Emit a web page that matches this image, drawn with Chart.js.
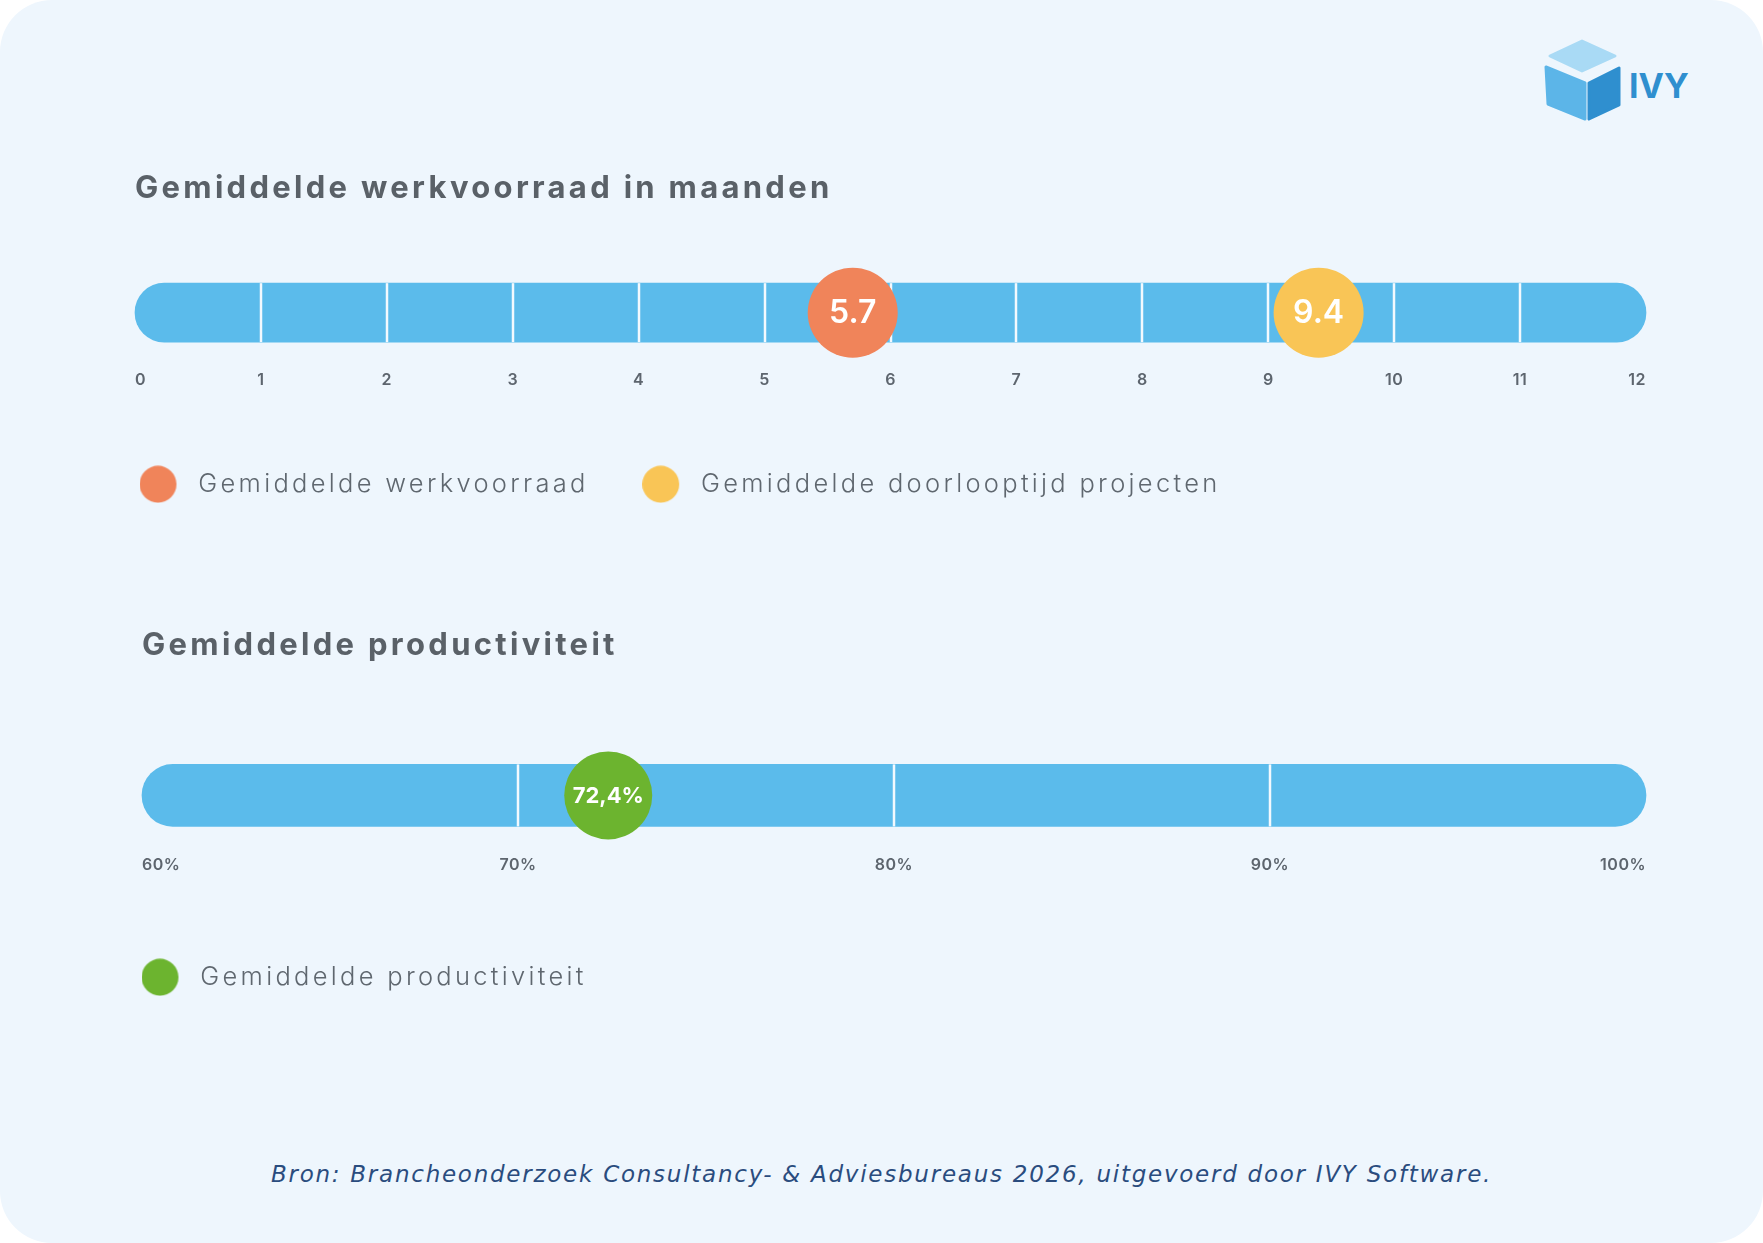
<!DOCTYPE html>
<html lang="nl">
<head>
<meta charset="utf-8">
<title>Werkvoorraad en productiviteit</title>
<script src="https://cdn.jsdelivr.net/npm/chart.js@4.4.1/dist/chart.umd.min.js"></script>
<style>
  html, body { margin: 0; background: #ffffff; }
  .card {
    position: relative;
    width: 1763px;
    height: 1243px;
    background: #eef6fd;
    border-radius: 52px;
    overflow: hidden;
  }
  canvas { position: absolute; left: 0; }
  #stockChart { top: 140px; }
  #prodChart { top: 580px; }
  .logo { position: absolute; left: 0; top: 0; }
  .source {
    position: absolute;
    left: 0;
    width: 100%;
    top: 1161px;
    text-align: center;
    font: italic 400 23px "DejaVu Sans", sans-serif;
    letter-spacing: 1.75px;
    color: #2a4c7e;
  }
</style>
</head>
<body>
<div class="card">
  <svg class="logo" width="1763" height="140" viewBox="0 0 1763 140">
    <g stroke-linejoin="round" stroke-width="3">
      <polygon points="1550,56 1582,41 1615,56 1582,71" fill="#a9daf5" stroke="#a9daf5"/>
      <polygon points="1546,67 1585,83 1585,119 1548,104" fill="#5cb5e8" stroke="#5cb5e8"/>
      <polygon points="1589,83 1619,68 1619,105 1589,119" fill="#2f8fcf" stroke="#2f8fcf"/>
    </g>
    <text x="1629" y="98" font-family="Inter" font-weight="700" font-size="34" fill="#2f8fcf">IVY</text>
  </svg>

  <canvas id="stockChart" width="1763" height="367"></canvas>
  <canvas id="prodChart" width="1763" height="420"></canvas>

  <div class="source">Bron: Brancheonderzoek Consultancy- &amp; Adviesbureaus 2026, uitgevoerd door IVY Software.</div>
</div>

<script>
// werkvoorraad (maanden)
const monthTicks = [0, 1, 2, 3, 4, 5, 6, 7, 8, 9, 10, 11, 12];
const stockSeries = ["Gemiddelde werkvoorraad", "Gemiddelde doorlooptijd projecten"];
const stockValues = [5.7, 9.4];

// productiviteit (%)
const percentTicks = [60, 70, 80, 90, 100];
const prodSeries = ["Gemiddelde productiviteit"];
const prodValues = [72.4];

const colors = {
  bar: "#5bbbeb",
  divider: "#f3f9fe",
  stock: ["#f0845a", "#f9c556"],
  prod: ["#6cb42f"],
  title: "#5a6168",
  tick: "#5d656e",
  legend: "#5f676f",
};

// legend dot with some room on the right, so the text sits where it should
function legendDot(color) {
  const c = document.createElement("canvas");
  c.width = 46;
  c.height = 38;
  const g = c.getContext("2d");
  g.fillStyle = color;
  g.beginPath();
  g.arc(18.5, 19, 18.5, 0, Math.PI * 2);
  g.fill();
  return c;
}

// white separators on the bar, one per tick (not the two ends)
const dividers = {
  id: "dividers",
  afterDatasetDraw(chart, args) {
    if (args.index !== 0) return;
    const bar = args.meta.data[0];
    const x = chart.scales.x;
    const top = bar.y - bar.height / 2;
    const bottom = bar.y + bar.height / 2;
    const ctx = chart.ctx;
    ctx.save();
    ctx.strokeStyle = colors.divider;
    ctx.lineWidth = 2.5;
    x.ticks.forEach((t) => {
      if (t.value === x.min || t.value === x.max) return;
      const px = Math.round(x.getPixelForValue(t.value));
      ctx.beginPath();
      ctx.moveTo(px, top);
      ctx.lineTo(px, bottom);
      ctx.stroke();
    });
    ctx.restore();
  },
};

// letter spacing for title/legend, values inside the dots
function markerText(format, font) {
  return {
    id: "markerText",
    beforeLayout(chart) {
      chart.ctx.letterSpacing = "3.3px";
    },
    beforeDraw(chart) {
      chart.ctx.letterSpacing = "3.3px";
    },
    afterDatasetsDraw(chart) {
      const ctx = chart.ctx;
      ctx.save();
      ctx.letterSpacing = "0px";
      ctx.fillStyle = "#ffffff";
      ctx.font = font;
      ctx.textAlign = "center";
      ctx.textBaseline = "middle";
      chart.data.datasets.forEach((ds, i) => {
        if (ds.type !== "scatter") return;
        const pt = chart.getDatasetMeta(i).data[0];
        ctx.fillText(format(ds.data[0].x), pt.x, pt.y + 1);
      });
      ctx.restore();
      // tick labels are drawn after this (ticks.z = 1)
      ctx.letterSpacing = "0.5px";
    },
  };
}

function gaugeChart(id, o) {
  const min = o.ticks[0];
  const max = o.ticks[o.ticks.length - 1];
  return new Chart(document.getElementById(id), {
    type: "bar",
    data: {
      labels: ["rij"],
      datasets: [
        {
          type: "bar",
          data: [[min, max]],
          backgroundColor: colors.bar,
          barThickness: o.barHeight,
          borderRadius: 40,
          borderSkipped: false,
          clip: false,
          order: 1,
        },
        ...o.series.map((name, i) => ({
          type: "scatter",
          label: name,
          data: [{ x: o.values[i], y: "rij" }],
          backgroundColor: o.colors[i],
          borderWidth: 0,
          pointRadius: o.dotRadius,
          pointHoverRadius: o.dotRadius,
          clip: false,
          order: 0,
        })),
      ],
    },
    options: {
      responsive: false,
      animation: false,
      indexAxis: "y",
      events: [],
      layout: {
        padding: { top: 0, bottom: 0, left: o.padLeft, right: 117 },
      },
      scales: {
        x: {
          type: "linear",
          min: min,
          max: max,
          grid: { display: false, drawTicks: false },
          border: { display: false },
          afterBuildTicks(scale) {
            scale.ticks = o.ticks.map((v) => ({ value: v }));
          },
          afterFit(scale) {
            scale.height += o.axisExtra;
          },
          ticks: {
            z: 1,
            align: "inner",
            autoSkip: false,
            maxRotation: 0,
            padding: o.tickPad,
            color: colors.tick,
            font: { family: "Inter", size: 16, weight: "600" },
            callback: o.tickFormat,
          },
        },
        y: {
          type: "category",
          grid: { display: false, drawTicks: false },
          border: { display: false },
          ticks: { display: false },
          afterFit(scale) {
            scale.width = o.axisWidth;
          },
        },
      },
      plugins: {
        tooltip: { enabled: false },
        title: {
          display: true,
          text: o.title,
          align: "start",
          fullSize: false,
          color: colors.title,
          font: { family: "Inter", size: 31, weight: "700" },
          padding: { top: o.titleTop, bottom: o.titleBottom },
        },
        legend: {
          display: true,
          position: "bottom",
          align: "start",
          labels: {
            usePointStyle: true,
            pointStyleWidth: 46,
            padding: 53.5,
            color: colors.legend,
            font: { family: "Inter", size: 25.5, weight: "300" },
            filter: (item) => item.datasetIndex > 0,
            generateLabels(chart) {
              return Chart.defaults.plugins.legend.labels
                .generateLabels(chart)
                .map((item) => ({ ...item, pointStyle: legendDot(item.fillStyle) }));
            },
          },
        },
      },
    },
    plugins: [dividers, markerText(o.valueFormat, o.valueFont)],
  });
}

gaugeChart("stockChart", {
  title: "Gemiddelde werkvoorraad in maanden",
  ticks: monthTicks,
  series: stockSeries,
  values: stockValues,
  colors: colors.stock,
  tickFormat: (v) => String(v),
  valueFormat: (v) => v.toFixed(1),
  valueFont: "600 32px Inter",
  barHeight: 59,
  dotRadius: 45,
  padLeft: 86,
  axisWidth: 49,
  titleTop: 30,
  titleBottom: 75.8,
  tickPad: 28,
  axisExtra: 0.5,
});

gaugeChart("prodChart", {
  title: "Gemiddelde productiviteit",
  ticks: percentTicks,
  series: prodSeries,
  values: prodValues,
  colors: colors.prod,
  tickFormat: (v) => v + "%",
  valueFormat: (v) => v.toFixed(1).replace(".", ",") + "%",
  valueFont: "700 22px Inter",
  barHeight: 62,
  dotRadius: 44,
  padLeft: 88,
  axisWidth: 54,
  titleTop: 46.9,
  titleBottom: 99.9,
  tickPad: 28.5,
  axisExtra: 8,
});
</script>
</body>
</html>
